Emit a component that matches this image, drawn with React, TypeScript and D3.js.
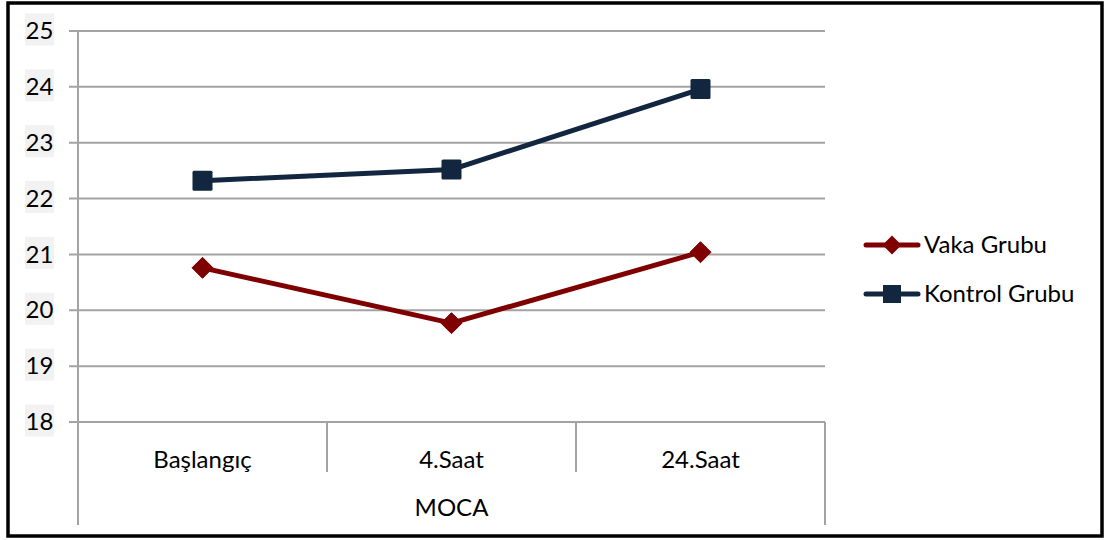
import React from "react";
import * as d3 from "d3";

// MOCA scores by measurement time
const categories = ["Başlangıç", "4.Saat", "24.Saat"];
const vakaGrubu = [20.76, 19.77, 21.04];
const kontrolGrubu = [22.32, 22.52, 23.96];
const yTicks = [18, 19, 20, 21, 22, 23, 24, 25];
const groupLabel = "MOCA";
const seriesNames = ["Vaka Grubu", "Kontrol Grubu"];

const W = 1105;
const H = 540;
const FONT = "Lato, 'Open Sans', sans-serif";
const FS = 24;
const RED = "#7f0000";
const NAVY = "#132640";
const GRID = "#a3a3a3";

export default function App() {
  const x = d3.scaleBand<string>().domain(categories).range([78, 825]);
  const y = d3.scaleLinear().domain([18, 25]).range([422, 31]);
  const cx = (c: string) => (x(c) as number) + x.bandwidth() / 2;

  const line = d3
    .line<number>()
    .x((_, i) => cx(categories[i]))
    .y((v) => y(v));

  const bandEdges = categories.map((c) => x(c) as number).concat([x.range()[1]]);

  const diamond = (px: number, py: number, r: number) =>
    `M${px},${py - r}L${px + r},${py}L${px},${py + r}L${px - r},${py}Z`;

  return (
    <svg
      width={W}
      height={H}
      style={{ position: "absolute", left: 0, top: 0, background: "#fff" }}
      fontFamily={FONT}
    >
      <rect x={8} y={3} width={1094} height={533} fill="#fff" stroke="#000" strokeWidth={3.5} />

      {/* horizontal gridlines and y ticks */}
      {yTicks.map((t) => (
        <g key={t}>
          <line x1={69} x2={825} y1={y(t)} y2={y(t)} stroke={GRID} strokeWidth={2} />
          <rect x={25} y={y(t) - 17.5} width={29} height={32} fill="#f2f2f2" />
          <text x={39.5} y={y(t)} dy="0.34em" textAnchor="middle" fontSize={FS} fill="#000">
            {t}
          </text>
        </g>
      ))}

      {/* value axis */}
      <line x1={78} x2={78} y1={y(25)} y2={525} stroke={GRID} strokeWidth={2} />

      {/* category separators */}
      {bandEdges.map((e, i) => {
        if (i === 0) return null;
        const outer = i === bandEdges.length - 1;
        return (
          <line key={i} x1={e} x2={e} y1={y(18)} y2={outer ? 525 : 472} stroke={GRID} strokeWidth={2} />
        );
      })}

      {/* category labels */}
      {categories.map((c) => (
        <text key={c} x={cx(c)} y={460} dy="0.34em" textAnchor="middle" fontSize={FS} fill="#000">
          {c}
        </text>
      ))}
      <text x={(x.range()[0] + x.range()[1]) / 2} y={508} dy="0.34em" textAnchor="middle" fontSize={FS} fill="#000">
        {groupLabel}
      </text>

      {/* series lines */}
      <path d={line(vakaGrubu) as string} fill="none" stroke={RED} strokeWidth={5} strokeLinejoin="round" strokeLinecap="round" />
      <path d={line(kontrolGrubu) as string} fill="none" stroke={NAVY} strokeWidth={5} strokeLinejoin="round" strokeLinecap="round" />

      {/* markers */}
      {vakaGrubu.map((v, i) => (
        <path key={"v" + i} d={diamond(cx(categories[i]), y(v), 10.5)} fill={RED} stroke={RED} strokeWidth={1} strokeLinejoin="round" />
      ))}
      {kontrolGrubu.map((v, i) => (
        <rect key={"k" + i} x={cx(categories[i]) - 10} y={y(v) - 10} width={20} height={20} rx={1.5} fill={NAVY} />
      ))}

      {/* legend */}
      <g>
        <line x1={866} x2={918} y1={245} y2={245} stroke={RED} strokeWidth={5} strokeLinecap="round" />
        <path d={diamond(892, 245, 9.5)} fill={RED} />
        <text x={924} y={245} dy="0.34em" fontSize={FS} fill="#000">
          {seriesNames[0]}
        </text>
        <line x1={866} x2={918} y1={294} y2={294} stroke={NAVY} strokeWidth={5} strokeLinecap="round" />
        <rect x={883} y={285} width={18} height={18} fill={NAVY} />
        <text x={924} y={294} dy="0.34em" fontSize={FS} fill="#000">
          {seriesNames[1]}
        </text>
      </g>
    </svg>
  );
}
